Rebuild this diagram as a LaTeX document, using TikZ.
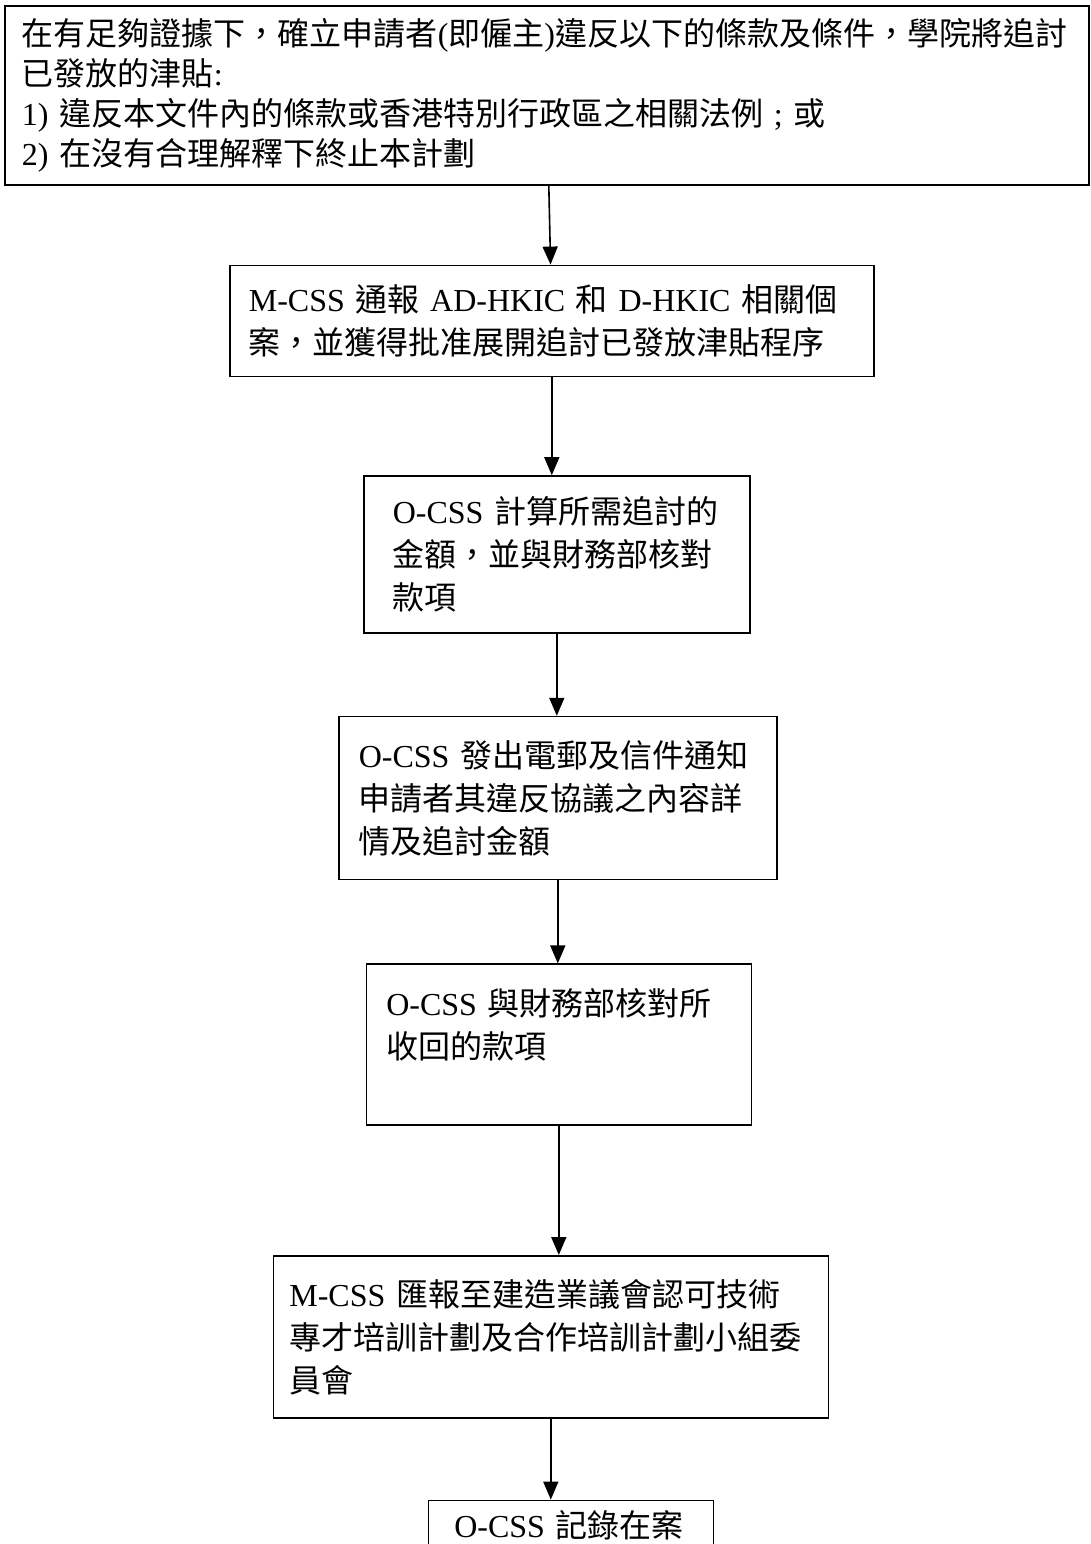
\documentclass[tikz,border=0pt]{standalone}
\usepackage{fontspec}
\setmainfont{Liberation Serif}
\newfontfamily\cjk{Noto Sans CJK TC}
\newcommand{\zh}[1]{{\cjk #1}}
\usetikzlibrary{positioning}
\usetikzlibrary{arrows.meta}

\tikzset{
    flowbox/.style={draw, line width=1.6pt, align=left, inner xsep=20pt, inner ysep=0pt,
        font=\fontsize{32}{43}\selectfont},
    flow/.style={line width=1.6pt, -{Triangle[length=18pt,width=15pt]}}
}

\begin{document}
\begin{tikzpicture}[x=1pt, y=1pt]
    \useasboundingbox (0,0) rectangle (1091,-1544);

    \node[flowbox, inner xsep=17pt, text width=1050pt, minimum height=179pt, anchor=north west,
        font=\fontsize{32}{40}\selectfont] (breach) at (4,-5)
        {\zh{在有足夠證據下，確立申請者}(\zh{即僱主})\zh{違反以下的條款及條件，學院將追討}\\
         \zh{已發放的津貼}:\\
         1) \zh{違反本文件內的條款或香港特別行政區之相關法例} ; \zh{或}\\
         2) \zh{在沒有合理解釋下終止本計劃}};
    \node[flowbox, inner xsep=19pt, text width=606pt, minimum height=111pt, below=79pt of breach, xshift=5pt] (notify)
        {M-CSS \zh{通報} AD-HKIC \zh{和} D-HKIC \zh{相關個}\\
         \zh{案，並獲得批准展開追討已發放津貼程序}};
    \node[flowbox, inner xsep=29pt, text width=328pt, minimum height=157pt, below=98pt of notify, xshift=5pt] (calc)
        {O-CSS \zh{計算所需追討的}\\
         \zh{金額，並與財務部核對}\\
         \zh{款項}};
    \node[flowbox, text width=398pt, minimum height=163pt, below=82pt of calc, xshift=1pt] (letter)
        {O-CSS \zh{發出電郵及信件通知}\\
         \zh{申請者其違反協議之內容詳}\\
         \zh{情及追討金額}};
    \node[flowbox, text width=345pt, minimum height=161pt, below=83pt of letter, xshift=1pt] (verify)
        {O-CSS \zh{與財務部核對所}\\
         \zh{收回的款項}\\
         ~};
    \node[flowbox, inner xsep=16pt, text width=523pt, minimum height=162pt, below=129pt of verify, xshift=-8pt] (report)
        {M-CSS \zh{匯報至建造業議會認可技術}\\
         \zh{專才培訓計劃及合作培訓計劃小組委}\\
         \zh{員會}};
    \node[flowbox, inner xsep=26pt, text width=233pt, minimum height=90pt, below=81pt of report, xshift=20pt] (record)
        {O-CSS \zh{記錄在案}\\
         ~};

    \draw[flow] (breach) -- (notify);
    \draw[flow] (notify.south) -- (notify.south |- calc.north);
    \draw[flow] (calc.south) -- (calc.south |- letter.north);
    \draw[flow] (letter.south) -- (letter.south |- verify.north);
    \draw[flow] (verify.south) -- (verify.south |- report.north);
    \draw[flow] (report.south) -- (report.south |- record.north);
\end{tikzpicture}
\end{document}
